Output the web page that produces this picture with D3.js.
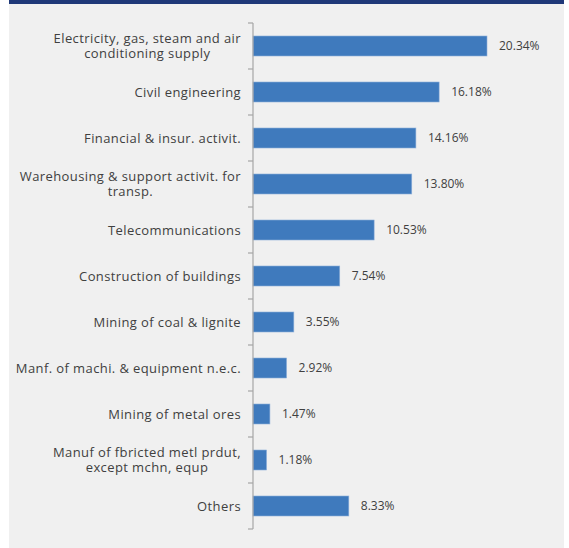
<!DOCTYPE html>
<html>
<head>
<meta charset="utf-8">
<script src="https://cdn.jsdelivr.net/npm/d3@7"></script>
<style>
  html, body { margin: 0; padding: 0; background: #ffffff; }
  svg { display: block; }
</style>
</head>
<body>
<svg id="chart" width="569" height="548"></svg>
<script>
// Sector shares, top to bottom
const categories = [
  "Electricity, gas, steam and air|conditioning supply",
  "Civil engineering",
  "Financial & insur. activit.",
  "Warehousing & support activit. for|transp.",
  "Telecommunications",
  "Construction of buildings",
  "Mining of coal & lignite",
  "Manf. of machi. & equipment n.e.c.",
  "Mining of metal ores",
  "Manuf of fbricted metl prdut,|except mchn, equp",
  "Others"
];
const shares = [20.34, 16.18, 14.16, 13.80, 10.53, 7.54, 3.55, 2.92, 1.47, 1.18, 8.33];
const valueLabels = ["20.34%", "16.18%", "14.16%", "13.80%", "10.53%", "7.54%", "3.55%", "2.92%", "1.47%", "1.18%", "8.33%"];

const W = 569, H = 548;
const svg = d3.select("#chart");
const font = "'Open Sans', sans-serif";

// panel background and header strip
svg.append("rect").attr("x", 9).attr("y", 0).attr("width", 555).attr("height", H).attr("fill", "#f0f0f0");
svg.append("rect").attr("x", 9).attr("y", 0).attr("width", 555).attr("height", 4).attr("fill", "#1f3878");

const axisX = 253, plotTop = 23, plotBottom = 529;

const y = d3.scaleBand().domain(d3.range(categories.length)).range([plotTop, plotBottom]).paddingInner(0.565).paddingOuter(0.2825);
const x = d3.scaleLinear().domain([0, 20.34]).range([axisX, 487]);

const g = svg.append("g");

// bars
g.selectAll("rect.bar").data(shares).join("rect")
  .attr("class", "bar")
  .attr("x", x(0))
  .attr("y", (d, i) => y(i))
  .attr("width", d => x(d) - x(0))
  .attr("height", y.bandwidth())
  .attr("fill", "#3f7abd")
  .attr("stroke", "#8fb0da")
  .attr("stroke-width", 0.6);

// value labels
g.selectAll("text.val").data(shares).join("text")
  .attr("class", "val")
  .attr("x", d => x(d) + 12)
  .attr("y", (d, i) => y(i) + y.bandwidth() / 2)
  .attr("dy", "0.35em")
  .attr("font-family", font)
  .attr("font-size", 12)
  .attr("fill", "#404040")
  .text((d, i) => valueLabels[i]);

// category axis: line with ticks at band edges
const edges = d3.range(categories.length + 1).map(i => plotTop + i * (plotBottom - plotTop) / categories.length);
g.append("line").attr("x1", axisX).attr("x2", axisX).attr("y1", plotTop).attr("y2", plotBottom)
  .attr("stroke", "#a6a6a6").attr("stroke-width", 1.2);
g.selectAll("line.tick").data(edges).join("line")
  .attr("class", "tick")
  .attr("x1", axisX - 5).attr("x2", axisX)
  .attr("y1", d => d).attr("y2", d => d)
  .attr("stroke", "#a6a6a6").attr("stroke-width", 1.2);

// category labels (multi-line labels are centred on each other, block right-aligned)
categories.forEach((c, i) => {
  const lines = c.split("|");
  const cy = y(i) + y.bandwidth() / 2;
  const lh = 15;
  const t = g.append("text")
    .attr("font-family", font)
    .attr("font-size", 13)
    .attr("letter-spacing", 0.4)
    .attr("fill", "#404040")
    .attr("text-anchor", "middle");
  const spans = lines.map((ln, k) => t.append("tspan")
    .attr("y", cy + (k - (lines.length - 1) / 2) * lh)
    .attr("dy", "0.35em")
    .text(ln));
  const widths = spans.map(s => s.node().getComputedTextLength());
  const maxW = d3.max(widths);
  const cx = 241 - maxW / 2;
  spans.forEach(s => s.attr("x", cx));
});
</script>
</body>
</html>
